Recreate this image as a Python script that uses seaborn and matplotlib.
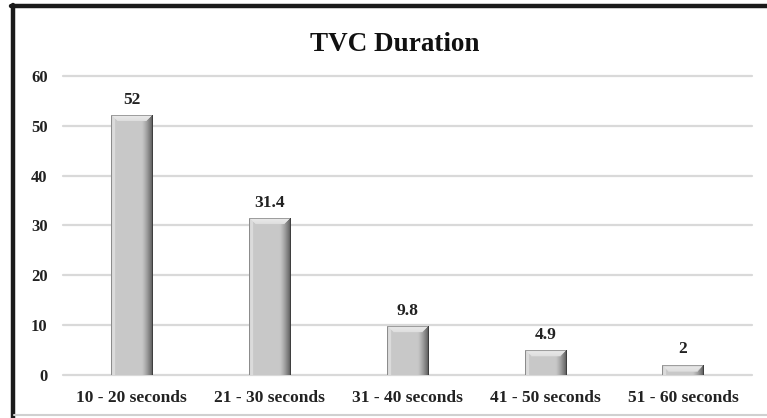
import numpy as np
import pandas as pd
import matplotlib
matplotlib.use("Agg")
import matplotlib.pyplot as plt
import seaborn as sns

categories = ["10 - 20 seconds", "21 - 30 seconds", "31 - 40 seconds",
              "41 - 50 seconds", "51 - 60 seconds"]
values = [52, 31.4, 9.8, 4.9, 2]
value_labels = ["52", "31.4", "9.8", "4.9", "2"]
y_ticks = [0, 10, 20, 30, 40, 50, 60]

df = pd.DataFrame({"duration": categories, "percent": values})

sns.set_theme(style="white")
plt.rcParams["font.family"] = ["Liberation Serif", "DejaVu Serif"]

fig = plt.figure(figsize=(7.67, 4.18), dpi=100)
ax = fig.add_axes([0.0821, 0.1029, 0.8983, 0.7153])

sns.barplot(data=df, x="duration", y="percent", color="#c8c8c8",
            width=0.3, ax=ax, saturation=1, edgecolor="none", zorder=3)

ax.set_ylim(0, 60)
ax.set_xlim(-0.5, len(categories) - 0.5)
ax.set_yticks(y_ticks)
ax.set_yticklabels([str(t) for t in y_ticks], fontweight="bold", fontsize=12)
ax.set_xticks(range(len(categories)))
ax.set_xticklabels(categories, fontweight="bold", fontsize=12.5)
ax.tick_params(axis="y", length=0, pad=11, colors="#222222")
ax.tick_params(axis="x", length=0, pad=10.5, colors="#222222")
ax.set_xlabel("")
ax.set_ylabel("")
for s in ax.spines.values():
    s.set_visible(False)

for t in y_ticks:
    ax.axhline(t, color="#d9d9d9", lw=1.6, zorder=1, clip_on=False)


# Bevelled shading drawn inside each bar
def bevel_image(w_px, h_px):
    w_px = max(int(w_px), 4)
    h_px = max(int(h_px), 3)
    xs = np.arange(w_px) + 0.5
    ys = np.arange(h_px) + 0.5
    X, Y = np.meshgrid(xs, ys)
    dl = X
    dr = w_px - X
    dt = Y
    img = np.full((h_px, w_px), 0.785)
    b = 6.0
    # right side: darkening toward the edge
    right = dr < b + 5
    img = np.where(right, 0.785 - (1 - dr / (b + 5)) ** 1.3 * 0.45, img)
    # left side: light strip with a thin dark rim
    left = dl < b * 0.6
    img = np.where(left, 0.86, img)
    img = np.where(dl < 1.5, 0.55, img)
    # top bevel, mitred into the side strips
    top = (dt < b) & (dt < dl) & (dt < dr)
    img = np.where(top, 0.92 - dt / b * 0.05, img)
    img = np.where(dt < 1.2, 0.62, img)
    img = np.where(dr < 1.5, 0.25, img)
    img = np.clip(img, 0, 1)
    return np.dstack([img, img, img])


fig.canvas.draw()
px_per_x = ax.transData.transform((1, 0))[0] - ax.transData.transform((0, 0))[0]
px_per_y = ax.transData.transform((0, 1))[1] - ax.transData.transform((0, 0))[1]

for patch in list(ax.patches):
    x0 = patch.get_x()
    w = patch.get_width()
    h = patch.get_height()
    img = bevel_image(w * px_per_x, h * px_per_y)
    ax.imshow(img, extent=(x0, x0 + w, 0, h), aspect="auto",
              interpolation="bilinear", zorder=4)

for i, (v, lab) in enumerate(zip(values, value_labels)):
    ax.annotate(lab, (i, v), xytext=(0, 5.5), textcoords="offset points",
                ha="center", va="bottom", fontsize=12.5, fontweight="bold",
                color="#222222", zorder=5)

ax.set_xlim(-0.5, len(categories) - 0.5)
ax.set_ylim(0, 60)

fig.suptitle("TVC Duration", x=0.515, y=0.924, fontsize=19.5, fontweight="bold",
             color="#111111")

# outer chart frame
fig.add_artist(plt.Line2D([0.0163, 0.0163], [0.0, 0.988], transform=fig.transFigure,
                          color="#1a1a1a", lw=3.2))
fig.add_artist(plt.Line2D([0.0143, 1.0], [0.986, 0.986], transform=fig.transFigure,
                          color="#1a1a1a", lw=3.2))
fig.add_artist(plt.Line2D([0.018, 1.0], [0.007, 0.007], transform=fig.transFigure,
                          color="#d0d0d0", lw=1.5))

fig.savefig("out.png", dpi=100)
